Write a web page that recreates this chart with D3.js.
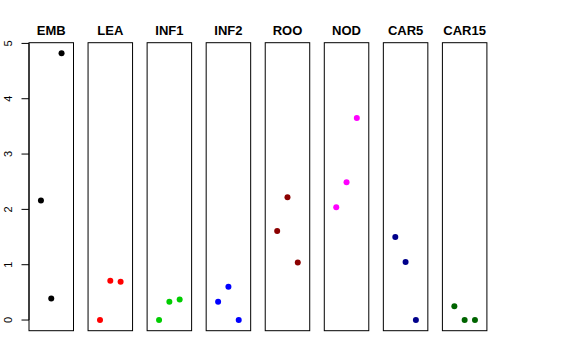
<!DOCTYPE html>
<html><head><meta charset="utf-8">
<script src="https://cdn.jsdelivr.net/npm/d3@7"></script>
<style>body{margin:0;background:#fff}svg{display:block}</style>
</head><body>
<script>
const panels = ["EMB","LEA","INF1","INF2","ROO","NOD","CAR5","CAR15"];
const colors = ["#000000","#FF0000","#00CD00","#0000FF","#8B0000","#FF00FF","#00008B","#006400"];
const values = [
  [2.16, 0.39, 4.82],
  [0.00, 0.71, 0.69],
  [0.00, 0.33, 0.37],
  [0.33, 0.60, 0.00],
  [1.61, 2.22, 1.04],
  [2.04, 2.49, 3.65],
  [1.50, 1.05, 0.00],
  [0.25, 0.00, 0.00]
];
const xIndex = [1, 2, 3];
const yTicks = [0, 1, 2, 3, 4, 5];

const W = 576, H = 360;
const svg = d3.select("body").append("svg").attr("width", W).attr("height", H);

const panelLeft = d3.scaleLinear().domain([0, 7]).range([29, 442.4]);
const panelW = 44.5;
const y = d3.scaleLinear().domain([-0.1928, 4.82 + 0.1928]).range([330.7, 42.7]);

panels.forEach((name, i) => {
  const x0 = panelLeft(i);
  const x = d3.scaleLinear().domain([-0.16, 4.16]).range([x0, x0 + panelW]);
  const g = svg.append("g");
  g.append("rect").attr("x", x0).attr("y", y.range()[1])
    .attr("width", panelW).attr("height", y.range()[0] - y.range()[1])
    .attr("fill", "none").attr("stroke", "#000").attr("stroke-width", 1);
  g.append("text").attr("x", x0 + panelW / 2).attr("y", 34.5)
    .attr("text-anchor", "middle").attr("font-family", "Liberation Sans, Arial, sans-serif")
    .attr("font-weight", "bold").attr("font-size", 13).text(name);
  g.selectAll("circle").data(values[i]).join("circle")
    .attr("cx", (d, j) => x(xIndex[j])).attr("cy", d => y(d))
    .attr("r", 3).attr("fill", colors[i]);
});

// y axis
const ax = svg.append("g");
ax.append("line").attr("x1", 29).attr("x2", 29).attr("y1", y(0)).attr("y2", y(5)).attr("stroke", "#000");
ax.selectAll("line.tick").data(yTicks).join("line").attr("class", "tick")
  .attr("x1", 21.5).attr("x2", 29).attr("y1", d => y(d)).attr("y2", d => y(d)).attr("stroke", "#000");
ax.selectAll("text").data(yTicks).join("text")
  .attr("transform", d => `translate(12,${y(d)}) rotate(-90)`)
  .attr("text-anchor", "middle").attr("font-family", "Liberation Sans, Arial, sans-serif")
  .attr("font-size", 11).text(d => d);
</script>
</body></html>
